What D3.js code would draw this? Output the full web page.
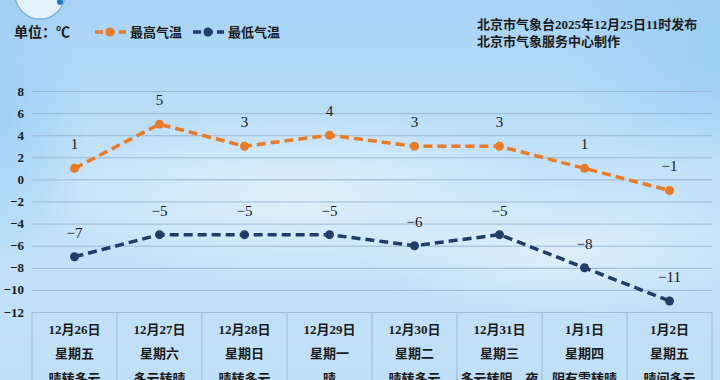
<!DOCTYPE html>
<html lang="zh">
<head>
<meta charset="UTF-8">
<title>北京未来一周气温</title>
<script src="https://d3js.org/d3.v7.min.js"></script>
<style>
  body { margin: 0; }
  svg { display: block; }
  text { font-family: "Liberation Serif", "Noto Sans CJK SC", serif; fill: #1a1a1a; }
</style>
</head>
<body>
<div id="chart"></div>
<script>
// data
const dates = ["12月26日", "12月27日", "12月28日", "12月29日", "12月30日", "12月31日", "1月1日", "1月2日"];
const weekdays = ["星期五", "星期六", "星期日", "星期一", "星期二", "星期三", "星期四", "星期五"];
const weather = ["晴转多云", "多云转晴", "晴转多云", "晴", "晴转多云", "多云转阴，夜", "阴有雪转晴", "晴间多云"];
const highTemps = [1, 5, 3, 4, 3, 3, 1, -1];
const lowTemps = [-7, -5, -5, -5, -6, -5, -8, -11];
const yTicks = [8, 6, 4, 2, 0, -2, -4, -6, -8, -10, -12];

const width = 720, height = 380;
const margin = { top: 91, left: 32, right: 8, bottom: 68 };
const orange = "#e97b26", navy = "#1f3d68";

const svg = d3.select("#chart").append("svg")
    .attr("width", width).attr("height", height);

// background sky
const defs = svg.append("defs");
const bg = defs.append("linearGradient").attr("id", "sky")
    .attr("x1", 0).attr("y1", 0).attr("x2", 0).attr("y2", 1);
bg.append("stop").attr("offset", "0%").attr("stop-color", "#a6d2f4");
bg.append("stop").attr("offset", "45%").attr("stop-color", "#c4e3f9");
bg.append("stop").attr("offset", "100%").attr("stop-color", "#bfdff7");
svg.append("rect").attr("width", width).attr("height", height).attr("fill", "url(#sky)");

const cloud = defs.append("radialGradient").attr("id", "cloud");
cloud.append("stop").attr("offset", "0%").attr("stop-color", "#ffffff").attr("stop-opacity", 0.45);
cloud.append("stop").attr("offset", "100%").attr("stop-color", "#ffffff").attr("stop-opacity", 0);
const side = defs.append("radialGradient").attr("id", "side");
side.append("stop").attr("offset", "0%").attr("stop-color", "#8ec6f2").attr("stop-opacity", 0.6);
side.append("stop").attr("offset", "100%").attr("stop-color", "#8ec6f2").attr("stop-opacity", 0);
svg.append("ellipse").attr("cx", 300).attr("cy", 200).attr("rx", 260).attr("ry", 90).attr("fill", "url(#cloud)");
svg.append("ellipse").attr("cx", 560).attr("cy", 250).attr("rx", 200).attr("ry", 70).attr("fill", "url(#cloud)");
svg.append("ellipse").attr("cx", 720).attr("cy", 60).attr("rx", 160).attr("ry", 120).attr("fill", "url(#side)");
svg.append("ellipse").attr("cx", 0).attr("cy", 120).attr("rx", 90).attr("ry", 160).attr("fill", "url(#side)");

// logo (cropped at top)
svg.append("circle").attr("cx", 40).attr("cy", -6).attr("r", 25)
    .attr("fill", "#e4f1fb").attr("stroke", "#7fb3da").attr("stroke-width", 1.5);
svg.append("circle").attr("cx", 60).attr("cy", 2).attr("r", 3).attr("fill", "#1d7ad4");

// scales
const x = d3.scaleBand().domain(dates).range([margin.left, width - margin.right]);
const y = d3.scaleLinear().domain([-12, 8]).range([height - margin.bottom, margin.top]);

// gridlines
svg.append("g")
    .attr("transform", `translate(${margin.left},0)`)
    .call(d3.axisLeft(y).tickValues(yTicks).tickSize(-(width - margin.left - margin.right)).tickFormat(""))
    .call(g => g.select(".domain").remove())
    .call(g => g.selectAll(".tick line").attr("stroke", "#9ab8d2").attr("stroke-width", 1));

// y labels
svg.append("g").selectAll("text").data(yTicks).join("text")
    .attr("x", 24).attr("y", d => y(d)).attr("dy", "0.35em")
    .attr("text-anchor", "end").attr("font-size", 13).attr("font-weight", "bold")
    .text(d => d < 0 ? "−" + Math.abs(d) : d);

// table
const tableTop = y(-12);
const table = svg.append("g");
table.selectAll("line.v").data(dates.concat(["end"])).join("line")
    .attr("x1", (d, i) => margin.left + i * x.bandwidth())
    .attr("x2", (d, i) => margin.left + i * x.bandwidth())
    .attr("y1", tableTop).attr("y2", height)
    .attr("stroke", "#9ab8d2");
const rows = [dates, weekdays, weather];
rows.forEach((row, r) => {
  table.selectAll(`text.r${r}`).data(row).join("text")
      .attr("class", `r${r}`)
      .attr("x", (d, i) => x(dates[i]) + x.bandwidth() / 2)
      .attr("y", tableTop + 17 + r * 24.5).attr("dy", "0.35em")
      .attr("text-anchor", "middle").attr("font-size", 13).attr("font-weight", "bold")
      .text(d => d);
});

// series
const series = [
  { name: "最高气温", values: highTemps, color: orange },
  { name: "最低气温", values: lowTemps, color: navy }
];
const line = d3.line()
    .x((d, i) => x(dates[i]) + x.bandwidth() / 2)
    .y(d => y(d));

series.forEach(s => {
  const g = svg.append("g");
  g.append("path").datum(s.values)
      .attr("d", line).attr("fill", "none")
      .attr("stroke", s.color).attr("stroke-width", 3.5)
      .attr("stroke-dasharray", "9,5");
  g.selectAll("circle").data(s.values).join("circle")
      .attr("cx", (d, i) => x(dates[i]) + x.bandwidth() / 2)
      .attr("cy", d => y(d)).attr("r", 4.5).attr("fill", s.color);
  g.selectAll("text").data(s.values).join("text")
      .attr("x", (d, i) => x(dates[i]) + x.bandwidth() / 2)
      .attr("y", d => y(d) - 19)
      .attr("text-anchor", "middle").attr("font-size", 15)
      .text(d => d < 0 ? "−" + Math.abs(d) : d);
});

// unit + legend
svg.append("text").attr("x", 14).attr("y", 37).attr("font-size", 14).attr("font-weight", "bold")
    .text("单位：℃");
const legend = svg.append("g");
[{ s: series[0], x0: 95 }, { s: series[1], x0: 193 }].forEach(({ s, x0 }) => {
  legend.append("line").attr("x1", x0).attr("x2", x0 + 31).attr("y1", 32).attr("y2", 32)
      .attr("stroke", s.color).attr("stroke-width", 3.5).attr("stroke-dasharray", "8,4");
  legend.append("circle").attr("cx", x0 + 15).attr("cy", 32).attr("r", 4.5).attr("fill", s.color);
  legend.append("text").attr("x", x0 + 35).attr("y", 37).attr("font-size", 13).attr("font-weight", "bold")
      .text(s.name);
});

// source
svg.append("text").attr("x", 477).attr("y", 29).attr("font-size", 13).attr("font-weight", "bold")
    .text("北京市气象台2025年12月25日11时发布");
svg.append("text").attr("x", 477).attr("y", 46).attr("font-size", 13).attr("font-weight", "bold")
    .text("北京市气象服务中心制作");
</script>
</body>
</html>
